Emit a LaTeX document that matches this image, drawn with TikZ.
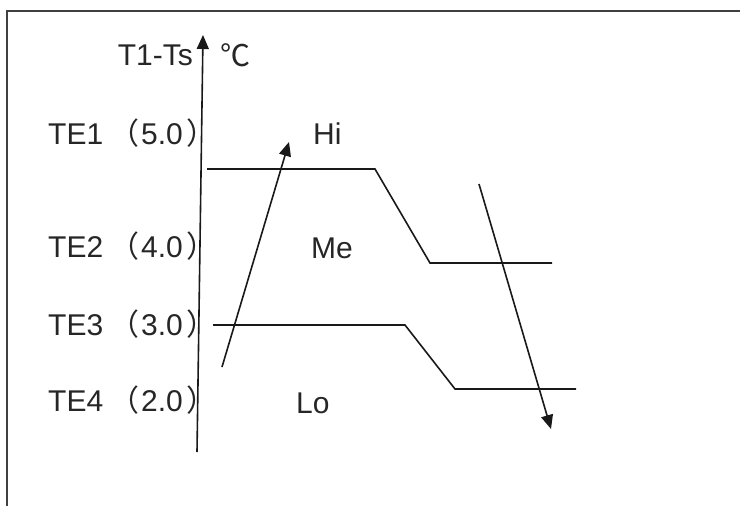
\documentclass[tikz,border=0pt]{standalone}
\usepackage{fontspec}
\setmainfont{Liberation Sans}
\newfontfamily\cjk{Noto Sans CJK SC}
\usetikzlibrary{arrows.meta}
\tikzset{
  lbl/.style={anchor=base west, inner sep=0pt, font=\fontsize{30}{32}\selectfont, text=black!85},
  ln/.style={line width=1.6pt, draw=black!90},
  arr/.style={ln, -{Triangle[length=14pt,width=12pt]}}
}
\newcommand{\lpar}{\kern6pt{\cjk （}\kern2pt}
\newcommand{\rpar}{\kern4pt{\cjk ）}}
\begin{document}
\begin{tikzpicture}[x=1pt,y=-1pt]
\useasboundingbox (0,0) rectangle (740,506);
% frame
\draw[line width=1.6pt, draw=black!75] (7,506) -- (7,11) -- (740,11);
% axis
\coordinate (ab) at (197,452);
\coordinate (at) at (203,35);
\draw[arr] (ab) -- (at);
\node[lbl, anchor=base east] (ylab) at (193,65) {T1-Ts};
\node[lbl, font=\fontsize{30}{32}\selectfont\cjk] (unit) at (220,66) {℃};
% level labels
\node[lbl] (te1) at (48,144) {TE1\lpar 5.0\rpar};
\node[lbl] (te2) at (48,257) {TE2\lpar 4.0\rpar};
\node[lbl] (te3) at (48,335) {TE3\lpar 3.0\rpar};
\node[lbl] (te4) at (48,411) {TE4\lpar 2.0\rpar};
% zone labels
\node[lbl] (hi) at (313,144) {Hi};
\node[lbl] (me) at (311,258) {Me};
\node[lbl] (lo) at (296,413) {Lo};
% thresholds
\coordinate (u1) at (207,169);
\coordinate (u2) at (375,169);
\coordinate (u3) at (430,263);
\coordinate (u4) at (552,263);
\draw[ln] (u1) -- (u2) -- (u3) -- (u4);
\coordinate (l1) at (213,325);
\coordinate (l2) at (405,325);
\coordinate (l3) at (455,389);
\coordinate (l4) at (576,389);
\draw[ln] (l1) -- (l2) -- (l3) -- (l4);
% rising / falling arrows
\coordinate (ra) at (222,367);
\coordinate (rb) at (289,142);
\draw[arr] (ra) -- (rb);
\coordinate (fa) at (479,184);
\coordinate (fb) at (551,429);
\draw[arr] (fa) -- (fb);
\end{tikzpicture}
\end{document}
